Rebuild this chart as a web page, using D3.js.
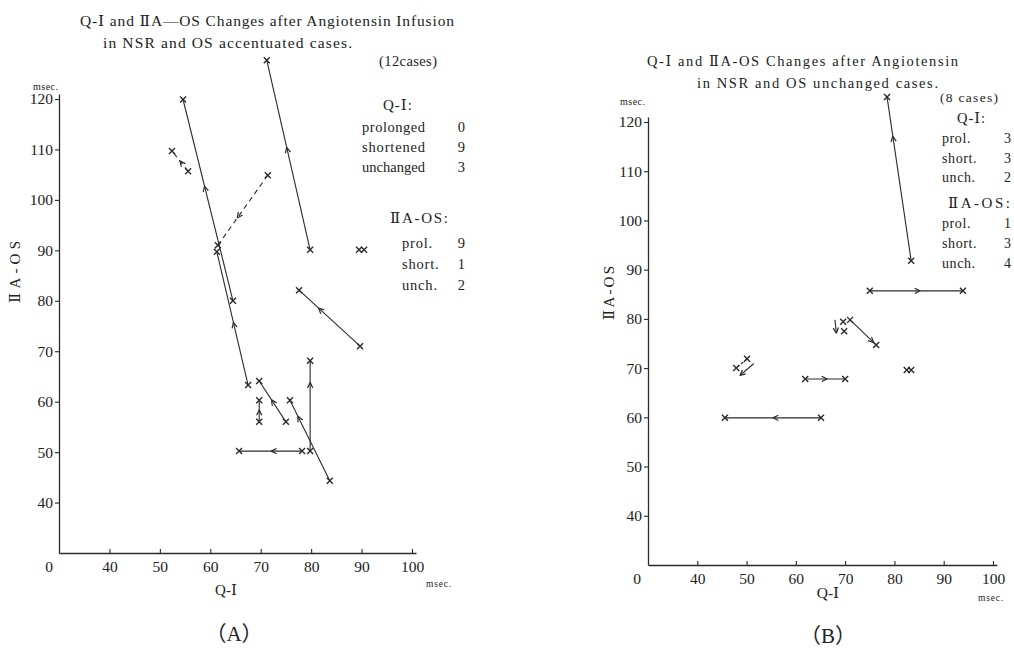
<!DOCTYPE html>
<html>
<head>
<meta charset="utf-8">
<script src="https://cdn.jsdelivr.net/npm/d3@7"></script>
<style>
  body { margin: 0; background: #fff; }
  svg text { font-family: "Liberation Serif", "DejaVu Serif", "Noto Sans CJK JP", serif; fill: #222; }
</style>
</head>
<body>
<svg id="chart" width="1014" height="648"></svg>
<script>
// ---- panel A : OS accentuated cases (12) ----
const qiBeforeA = [79.8, 64.5, 67.5, 71.4, 55.6, 89.7, 89.5, 69.7, 75.0, 83.7, 79.8, 78.2];
const qiAfterA  = [71.2, 54.6, 61.3, 61.5, 52.4, 77.6, 90.5, 69.7, 69.7, 75.8, 79.8, 65.7];
const osBeforeA = [90.1, 80.0, 63.3, 104.9, 105.7, 71.0, 90.1, 56.0, 56.0, 44.3, 50.2, 50.2];
const osAfterA  = [127.7, 119.9, 89.7, 91.0, 109.7, 82.1, 90.1, 60.3, 64.1, 60.3, 68.1, 50.2];

// ---- panel B : OS unchanged cases (8) ----
const qiBeforeB = [83.4, 75.0, 69.6, 71.0, 50.1, 61.9, 65.1, 82.5];
const qiAfterB  = [78.5, 93.9, 69.8, 76.3, 47.9, 70.0, 45.6, 83.4];
const osBeforeB = [91.8, 85.7, 79.4, 79.8, 71.9, 67.8, 59.9, 69.6];
const osAfterB  = [125.1, 85.7, 77.5, 74.7, 70.0, 67.8, 59.9, 69.6];

// tick labels
const xTicks = [40, 50, 60, 70, 80, 90, 100];
const yTicks = [40, 50, 60, 70, 80, 90, 100, 110, 120];

// legend counts
const qiLabelsA = ["prolonged", "shortened", "unchanged"];
const qiCountsA = [0, 9, 3];
const osLabelsA = ["prol.", "short.", "unch."];
const osCountsA = [9, 1, 2];
const qiLabelsB = ["prol.", "short.", "unch."];
const qiCountsB = [3, 3, 2];
const osLabelsB = ["prol.", "short.", "unch."];
const osCountsB = [1, 3, 4];

// how each case is drawn (line type, where the arrowhead sits)
const linkA = ["solid","solid","solid","dashed","dashed","solid","none","solid","solid","solid","solid","solid"];
const arrowAtA = [0.54, 0.57, 0.47, 0.61, 0.5, 0.68, 0, 0.55, 0.54, 0.8, 0.76, 0.49];
const linkB = ["solid","solid","side","solid","dashedside","solid","solid","none"];
const arrowAtB = [0.76, 0.54, 1, 0.9, 1, 0.55, 0.5, 0];

const ink = '#2a2a2a';
const svg = d3.select('#chart');
svg.append('rect').attr('width', 1014).attr('height', 648).attr('fill', '#fff');

function chevron(g, x, y, ang) {
  const len = 6, spread = 0.45;
  [ang + Math.PI - spread, ang + Math.PI + spread].forEach(a => {
    g.append('line')
      .attr('x1', x).attr('y1', y)
      .attr('x2', x + len * Math.cos(a)).attr('y2', y + len * Math.sin(a))
      .attr('stroke', ink).attr('stroke-width', 1.2);
  });
}

function cross(g, x, y) {
  const s = 3;
  g.append('path')
    .attr('d', `M${x-s},${y-s}L${x+s},${y+s}M${x-s},${y+s}L${x+s},${y-s}`)
    .attr('stroke', ink).attr('stroke-width', 1.4).attr('fill', 'none');
}

function drawPanel(p) {
  const g = svg.append('g');
  const x = p.x, y = p.y;

  // axes (domain lengthened a bit past 100 / 120 like the drawing)
  const xAx = x.copy().domain([30, 100.8]).range([x(30), x(100.8)]);
  const yAx = y.copy().domain([30, 121]).range([y(30), y(121)]);

  const xg = g.append('g')
    .attr('transform', `translate(0, ${y(30)})`)
    .call(d3.axisBottom(xAx).tickValues(xTicks).tickSizeInner(-4).tickSizeOuter(0).tickPadding(8));
  const yg = g.append('g')
    .attr('transform', `translate(${x(30)}, 0)`)
    .call(d3.axisLeft(yAx).tickValues(yTicks).tickSizeInner(4).tickSizeOuter(0).tickPadding(2));
  [xg, yg].forEach(a => {
    a.select('.domain').attr('stroke', ink).attr('stroke-width', 1.3);
    a.selectAll('.tick line').attr('stroke', ink).attr('stroke-width', 1.1);
    a.selectAll('text').attr('font-size', 15.5);
  });

  // the changes
  p.qiBefore.forEach((d, i) => {
    const x1 = x(p.qiBefore[i]), y1 = y(p.osBefore[i]);
    const x2 = x(p.qiAfter[i]), y2 = y(p.osAfter[i]);
    const ang = Math.atan2(y2 - y1, x2 - x1);
    const type = p.link[i];
    if (type === 'solid' || type === 'dashed' || type === 'dashedside') {
      g.append('line')
        .attr('x1', x1).attr('y1', y1).attr('x2', x2).attr('y2', y2)
        .attr('stroke', ink).attr('stroke-width', 1.1)
        .attr('stroke-dasharray', type === 'solid' ? null : (type === 'dashed' ? '5,4' : '3,2'));
    }
    if (type === 'solid' || type === 'dashed') {
      const t = p.arrowAt[i];
      chevron(g, x1 + (x2 - x1) * t, y1 + (y2 - y1) * t, ang);
    }
    if (type === 'side' || type === 'dashedside') {
      // small arrow drawn beside the pair of points
      let nx, ny;
      if (type === 'side') { nx = -8; ny = 0; }
      else { nx = 8 * Math.cos(ang - Math.PI / 2); ny = 8 * Math.sin(ang - Math.PI / 2); }
      const ext = 2;
      const sx = x1 + nx - ext * Math.cos(ang), sy = y1 + ny - ext * Math.sin(ang);
      const ex = x2 + nx + ext * Math.cos(ang), ey = y2 + ny + ext * Math.sin(ang);
      g.append('line').attr('x1', sx).attr('y1', sy).attr('x2', ex).attr('y2', ey)
        .attr('stroke', ink).attr('stroke-width', 1.1);
      chevron(g, ex, ey, ang);
    }
    cross(g, x1, y1);
    cross(g, x2, y2);
  });
  return g;
}

function txt(x, y, s, size, opts) {
  opts = opts || {};
  const t = svg.append('text')
    .attr('x', x).attr('y', y)
    .attr('font-size', size)
    .attr('text-anchor', opts.anchor || 'start')
    .text(s);
  if (opts.len) t.attr('textLength', opts.len).attr('lengthAdjust', 'spacing');
  if (opts.rotate) t.attr('transform', `rotate(-90, ${x}, ${y})`);
  if (opts.ls) t.attr('letter-spacing', opts.ls);
  return t;
}

// ---------- panel A ----------
const xA = d3.scaleLinear().domain([30, 100]).range([59, 412]);
const yA = d3.scaleLinear().domain([30, 120]).range([553, 99]);
drawPanel({ x: xA, y: yA, qiBefore: qiBeforeA, qiAfter: qiAfterA,
            osBefore: osBeforeA, osAfter: osAfterA, link: linkA, arrowAt: arrowAtA });

txt(80, 26, "Q-Ⅰ and ⅡA—OS Changes after Angiotensin Infusion", 15.5, { len: 374 });
txt(103, 48, "in NSR and OS  accentuated cases.", 15.5, { len: 249 });
txt(379, 66, "(12cases)", 14.5, { len: 58 });
txt(33, 90, "msec.", 10, { ls: 0.5 });
txt(49, 572, "0", 15.5, { anchor: 'middle' });
txt(226, 595, "Q-Ⅰ", 15, { anchor: 'middle' });
txt(426, 587, "msec.", 9.5, { ls: 0.8 });
txt(20, 272, "ⅡA-OS", 15, { anchor: 'middle', rotate: true, len: 62 });
txt(234, 641, "（A）", 21, { anchor: 'middle' });

txt(383, 110, "Q-Ⅰ:", 15, { ls: 1 });
qiLabelsA.forEach((l, i) => {
  txt(362, 132 + i * 20, l, 14.5, { len: 63 });
  txt(465, 132 + i * 20, qiCountsA[i], 14.5, { anchor: 'end' });
});
txt(390, 223, "ⅡA-OS:", 15, { len: 58 });
osLabelsA.forEach((l, i) => {
  txt(402, 248 + i * 21, l, 14.5, { ls: 0.8 });
  txt(465, 248 + i * 21, osCountsA[i], 14.5, { anchor: 'end' });
});

// ---------- panel B ----------
const xB = d3.scaleLinear().domain([30, 100]).range([648, 993]);
const yB = d3.scaleLinear().domain([30, 120]).range([565, 122]);
drawPanel({ x: xB, y: yB, qiBefore: qiBeforeB, qiAfter: qiAfterB,
            osBefore: osBeforeB, osAfter: osAfterB, link: linkB, arrowAt: arrowAtB });

txt(647, 66, "Q-Ⅰ and ⅡA-OS  Changes after Angiotensin", 14.5, { len: 311 });
txt(697, 88, "in NSR  and OS  unchanged cases.", 14.5, { len: 241 });
txt(940, 102, "(8 cases)", 13.5, { len: 58 });
txt(620, 105, "msec.", 10, { ls: 0.5 });
txt(637, 584, "0", 15.5, { anchor: 'middle' });
txt(828, 598, "Q-Ⅰ", 15.5, { anchor: 'middle' });
txt(978, 601, "msec.", 9.5, { ls: 0.8 });
txt(614, 293, "ⅡA-OS", 15, { anchor: 'middle', rotate: true, len: 54 });
txt(828, 643, "（B）", 21, { anchor: 'middle' });

txt(957, 123, "Q-Ⅰ:", 14.5, { ls: 1 });
qiLabelsB.forEach((l, i) => {
  txt(942, 143 + i * 19.5, l, 14, { ls: 0.6 });
  txt(1011, 143 + i * 19.5, qiCountsB[i], 14, { anchor: 'end' });
});
txt(948, 208, "ⅡA-OS:", 15, { len: 62 });
osLabelsB.forEach((l, i) => {
  txt(942, 228 + i * 20, l, 14, { ls: 0.6 });
  txt(1011, 228 + i * 20, osCountsB[i], 14, { anchor: 'end' });
});
</script>
</body>
</html>
